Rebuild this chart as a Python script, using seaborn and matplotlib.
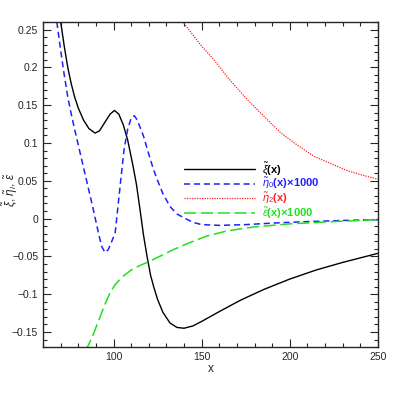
import numpy as np
import pandas as pd
import matplotlib
matplotlib.use("Agg")
import matplotlib.pyplot as plt
from matplotlib.ticker import MultipleLocator
import seaborn as sns

# values
xi_x = [70, 72, 74, 76, 78, 80, 83, 86, 89.5, 92, 95, 98, 100.5, 103, 105.5, 108, 111, 113,
        115, 117, 119, 121, 123, 125, 128, 132, 136, 140, 145, 150, 160, 172, 185, 200, 215, 230, 250]
xi_y = [0.26, 0.228, 0.200, 0.178, 0.160, 0.146, 0.130, 0.119, 0.113, 0.116, 0.127, 0.138, 0.143,
        0.138, 0.124, 0.104, 0.070, 0.045, 0.012, -0.022, -0.050, -0.075, -0.092, -0.107, -0.124,
        -0.138, -0.144, -0.145, -0.142, -0.136, -0.123, -0.108, -0.094, -0.080, -0.068, -0.058, -0.046]

eta0_x = [67.8, 70, 72, 74, 76, 78, 80, 82, 84, 86, 88, 90, 92, 93.5, 95.2, 97, 99, 100.9, 103,
          104.5, 106, 108, 110, 111.8, 113.5, 115.5, 117, 120, 122.5, 124.7, 128, 132, 136, 140,
          145, 150, 160, 175, 190, 210, 230, 250]
eta0_y = [0.26, 0.222, 0.19, 0.161, 0.138, 0.117, 0.097, 0.077, 0.057, 0.037, 0.017, -0.004,
          -0.025, -0.038, -0.045, -0.041, -0.030, -0.019, 0.027, 0.060, 0.092, 0.118, 0.133,
          0.136, 0.130, 0.118, 0.109, 0.085, 0.066, 0.052, 0.033, 0.016, 0.006, 0.001, -0.005,
          -0.008, -0.009, -0.008, -0.006, -0.004, -0.0025, -0.0015]

eta2_x = [139, 145, 150, 157, 165, 176, 185, 195, 205, 214, 225, 233, 242, 250]
eta2_y = [0.261, 0.243, 0.228, 0.210, 0.186, 0.157, 0.136, 0.113, 0.096, 0.082, 0.071, 0.063, 0.057, 0.052]

eps_x = [84, 86, 88, 90, 92.5, 95, 98, 101, 105, 110, 115, 120, 127, 134, 143, 153, 165, 180,
         200, 225, 250]
eps_y = [-0.175, -0.166, -0.156, -0.144, -0.129, -0.114, -0.098, -0.087, -0.077, -0.068, -0.062,
         -0.057, -0.049, -0.041, -0.032, -0.023, -0.016, -0.011, -0.007, -0.004, -0.0015]

labels = [r'$\tilde{\xi}$(x)', r'$\tilde{\eta}_0$(x)×1000', r'$\tilde{\eta}_2$(x)',
          r'$\tilde{\varepsilon}$(x)×1000']
colors = ['black', '#2020ff', '#ff2020', '#20e020']

sns.set_style('ticks')
plt.rcParams['font.family'] = ['Liberation Sans', 'DejaVu Sans']
plt.rcParams['mathtext.fontset'] = 'custom'
plt.rcParams['mathtext.rm'] = 'Liberation Sans'
plt.rcParams['mathtext.it'] = 'Liberation Sans:italic'

fig = plt.figure(figsize=(3.99, 3.99), dpi=100)
ax = fig.add_axes([0.108, 0.130, 0.839, 0.815])

series = [(xi_x, xi_y), (eta0_x, eta0_y), (eta2_x, eta2_y), (eps_x, eps_y)]
styles = [dict(linestyle='-', linewidth=1.0),
          dict(linestyle=(0, (4, 2.5)), linewidth=1.1),
          dict(linestyle=(0, (1, 1)), linewidth=0.9),
          dict(linestyle=(0, (8, 3)), linewidth=1.1)]
for (xs, ys), lab, col, st in zip(series, labels, colors, styles):
    df = pd.DataFrame({'x': xs, 'y': ys})
    sns.lineplot(data=df, x='x', y='y', ax=ax, color=col, label=lab, sort=False, **st)

ax.set_xlim(60, 250)
ax.set_ylim(-0.17, 0.26)
ax.xaxis.set_major_locator(MultipleLocator(50))
ax.xaxis.set_minor_locator(MultipleLocator(10))
ax.set_yticks([-0.15, -0.1, -0.05, 0, 0.05, 0.1, 0.15, 0.2, 0.25])
ax.set_yticklabels(['−0.15', '−0.1', '−0.05', '0', '0.05', '0.1', '0.15', '0.2', '0.25'])
ax.yaxis.set_minor_locator(MultipleLocator(0.01))
ax.tick_params(which='both', direction='in', top=True, right=True, labelsize=7.5, width=0.8)
ax.tick_params(which='major', length=6)
ax.tick_params(which='minor', length=3)
for s in ax.spines.values():
    s.set_linewidth(1.0)

ax.set_xlabel('x', fontsize=8.5, labelpad=1)
ax.set_ylabel(r'$\tilde{\xi}$, $\tilde{\eta}_l$, $\tilde{\varepsilon}$', fontsize=8.5)
ax.yaxis.set_label_coords(-0.07, 0.483)

leg = ax.legend(loc='upper left', bbox_to_anchor=(0.421, 0.574), frameon=False,
                handlelength=6.4, handletextpad=0.6, labelspacing=-0.05, borderpad=0,
                borderaxespad=0, prop={'size': 8, 'weight': 'bold'})
for t, c in zip(leg.get_texts(), colors):
    t.set_color(c)

fig.savefig('out.png', dpi=100)
